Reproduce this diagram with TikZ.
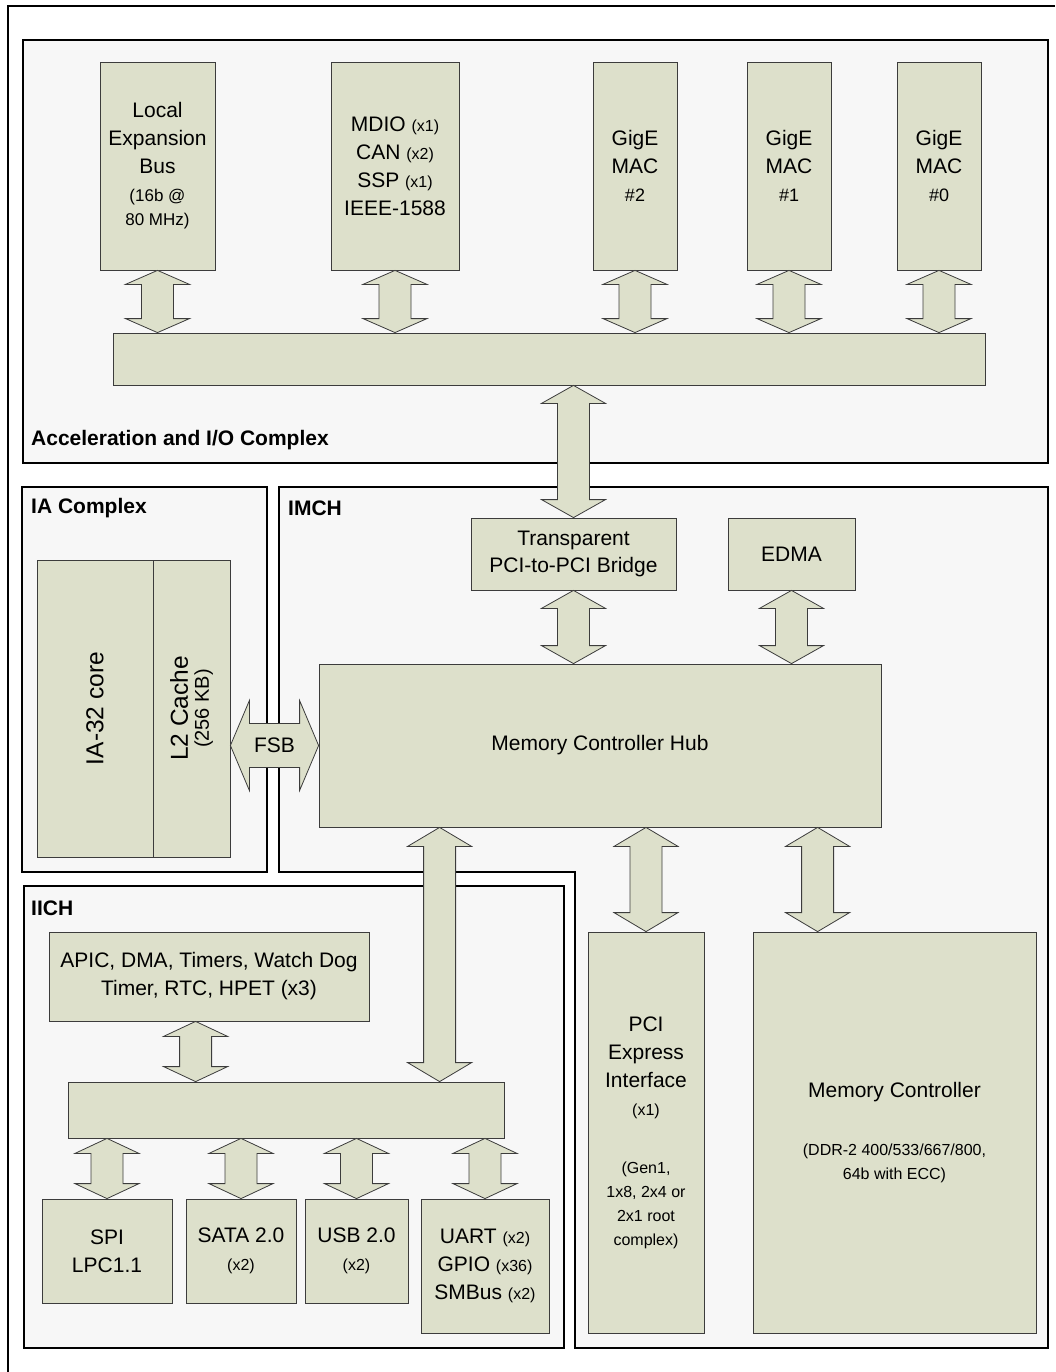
\documentclass[tikz,border=0pt]{standalone}
\usepackage{fontspec}
\setmainfont{Liberation Sans}
\usetikzlibrary{calc}

\definecolor{blkfill}{HTML}{DDE0CB}
\definecolor{cxfill}{HTML}{F7F7F7}
\definecolor{blkline}{HTML}{3C3C3C}

\newcommand\sm[1]{{\fontsize{16}{20}\selectfont #1}}
% vertical double block arrow: #2 upper end, #3 lower end, #1 head length
\newcommand\vlink[3][16]{%
  \draw[link] let \p1=(#2), \p2=(#3) in
    (\x1,\y1) -- (\x1+32pt,\y1-#1pt) -- (\x1+16pt,\y1-#1pt)
    -- (\x1+16pt,\y2+#1pt) -- (\x1+32pt,\y2+#1pt) -- (\x1,\y2)
    -- (\x1-32pt,\y2+#1pt) -- (\x1-16pt,\y2+#1pt)
    -- (\x1-16pt,\y1-#1pt) -- (\x1-32pt,\y1-#1pt) -- cycle;}
% horizontal double block arrow: #1 left end, #2 right end
\newcommand\hlink[2]{%
  \draw[link] let \p1=(#1), \p2=(#2) in
    (\x1,\y1) -- (\x1+19pt,\y1+45pt) -- (\x1+19pt,\y1+22pt)
    -- (\x2-19pt,\y1+22pt) -- (\x2-19pt,\y1+45pt) -- (\x2,\y1)
    -- (\x2-19pt,\y1-45pt) -- (\x2-19pt,\y1-22pt)
    -- (\x1+19pt,\y1-22pt) -- (\x1+19pt,\y1-45pt) -- cycle;}

\begin{document}
\begin{tikzpicture}[x=1pt,y=-1pt,
    cplx/.style={draw=black,line width=1.6pt,fill=cxfill},
    txt/.style={align=center,inner sep=0pt,font=\fontsize{21}{28}\selectfont},
    rtxt/.style={align=center,inner sep=0pt,rotate=90,font=\fontsize{24.5}{28}\selectfont},
    blk/.style={txt,draw=blkline,line width=0.8pt,fill=blkfill},
    lbl/.style={anchor=west,inner sep=0pt,font=\fontsize{21}{24}\selectfont\bfseries},
    link/.style={draw=blkline,line width=0.8pt,fill=blkfill}]
  \useasboundingbox (0,0) rectangle (1055,1372);

  % complexes
  \draw[cplx] (23,40) rectangle (1048,463);
  \draw[cplx] (22,487) rectangle (267,872);
  \draw[cplx] (279,487) -- (1048,487) -- (1048,1348) -- (575,1348) -- (575,872) -- (279,872) -- cycle;
  \draw[cplx] (24,886) rectangle (564,1348);

  \node[lbl] (acclbl) at (31,440) {Acceleration and I/O Complex};
  \node[lbl] (ialbl) at (31,508) {IA Complex};
  \node[lbl] (imchlbl) at (288,508) {IMCH};
  \node[lbl] (iichlbl) at (31,908) {IICH};

  % acceleration and I/O
  \node[blk,minimum width=115,minimum height=208] (leb) at (157.5,166)
    {Local\\Expansion\\Bus\\{\fontsize{17}{20}\selectfont(16b @}\\[-4pt]{\fontsize{17}{20}\selectfont80 MHz)}};
  \node[blk,minimum width=128,minimum height=208] (mdio) at (395,166)
    {MDIO \sm{(x1)}\\CAN \sm{(x2)}\\SSP \sm{(x1)}\\IEEE-1588};
  \node[blk,minimum width=84,minimum height=208] (gige2) at (635,166) {GigE\\MAC\\{\fontsize{18}{20}\selectfont\#2}};
  \node[blk,minimum width=84,minimum height=208] (gige1) at (789,166) {GigE\\MAC\\{\fontsize{18}{20}\selectfont\#1}};
  \node[blk,minimum width=84,minimum height=208] (gige0) at (939,166) {GigE\\MAC\\{\fontsize{18}{20}\selectfont\#0}};
  \node[blk,minimum width=872,minimum height=52] (acbus) at (549,359) {};

  % IA complex
  \node[blk,minimum width=116,minimum height=297] (core) at (95,708.5) {};
  \node[rtxt] (coretxt) at (core) {IA-32 core};
  \node[blk,minimum width=77,minimum height=297] (l2) at (191.5,708.5) {};
  \node[rtxt] (l2txt) at (l2) {L2 Cache\\[-7pt]{\fontsize{20}{22}\selectfont(256 KB)}};

  % IMCH
  \node[blk,minimum width=205,minimum height=72] (bridge) at (573.5,554)
    {Transparent\\[-1pt]PCI-to-PCI Bridge};
  \node[blk,minimum width=127,minimum height=72] (edma) at (791.5,554) {EDMA};
  \node[blk,minimum width=562,minimum height=163] (mch) at (600,745.5) {Memory Controller Hub};
  \node[blk,minimum width=116,minimum height=401] (pcie) at (646,1132.5)
    {PCI\\Express\\Interface\\\sm{(x1)}\\[30pt]\sm{(Gen1,}\\[-4pt]\sm{1x8, 2x4 or}\\[-4pt]\sm{2x1 root}\\[-4pt]\sm{complex)}};
  \node[blk,minimum width=283,minimum height=401] (memc) at (894.5,1132.5)
    {Memory Controller\\[30pt]\sm{(DDR-2 400/533/667/800,}\\[-4pt]\sm{64b with ECC)}};

  % IICH
  \node[blk,minimum width=320,minimum height=89] (apic) at (209,976.5)
    {APIC, DMA, Timers, Watch Dog\\Timer, RTC, HPET (x3)};
  \node[blk,minimum width=436,minimum height=56] (iobus) at (286,1110) {};
  \node[blk,minimum width=130,minimum height=104] (spi) at (107,1251) {SPI\\LPC1.1};
  \node[blk,minimum width=110,minimum height=104] (sata) at (241,1251) {SATA 2.0\\\sm{(x2)}};
  \node[blk,minimum width=103,minimum height=104] (usb) at (356.5,1251) {USB 2.0\\\sm{(x2)}};
  \node[blk,minimum width=128,minimum height=134] (uart) at (485,1266)
    {UART \sm{(x2)}\\GPIO \sm{(x36)}\\SMBus \sm{(x2)}};

  % links
  \vlink[14]{leb.south}{leb.south |- acbus.north}
  \vlink[14]{mdio.south}{mdio.south |- acbus.north}
  \vlink[14]{gige2.south}{gige2.south |- acbus.north}
  \vlink[14]{gige1.south}{gige1.south |- acbus.north}
  \vlink[14]{gige0.south}{gige0.south |- acbus.north}
  \vlink[18]{bridge.north |- acbus.south}{bridge.north}
  \vlink[18]{bridge.south}{bridge.south |- mch.north}
  \vlink[18]{edma.south}{edma.south |- mch.north}
  \coordinate (hubio) at ($(mch.south west)+(121,0)$);
  \coordinate (hubmem) at ($(mch.south west)+(499,0)$);
  \coordinate (apicio) at ($(apic.south west)+(147,0)$);
  \vlink[19]{hubio}{hubio |- iobus.north}
  \vlink[19]{pcie.north |- mch.south}{pcie.north}
  \vlink[19]{hubmem}{hubmem |- memc.north}
  \vlink[15]{apicio}{apicio |- iobus.north}
  \vlink[15]{spi.north |- iobus.south}{spi.north}
  \vlink[15]{sata.north |- iobus.south}{sata.north}
  \vlink[15]{usb.north |- iobus.south}{usb.north}
  \vlink[15]{uart.north |- iobus.south}{uart.north}
  \hlink{l2.east |- mch.west}{mch.west}
  \node[txt] (fsb) at ($(l2.east |- mch.west)!0.5!(mch.west)$) {FSB};

  % page frame
  \draw[line width=2pt] (8,1372) -- (8,6) -- (1055,6);
\end{tikzpicture}
\end{document}
